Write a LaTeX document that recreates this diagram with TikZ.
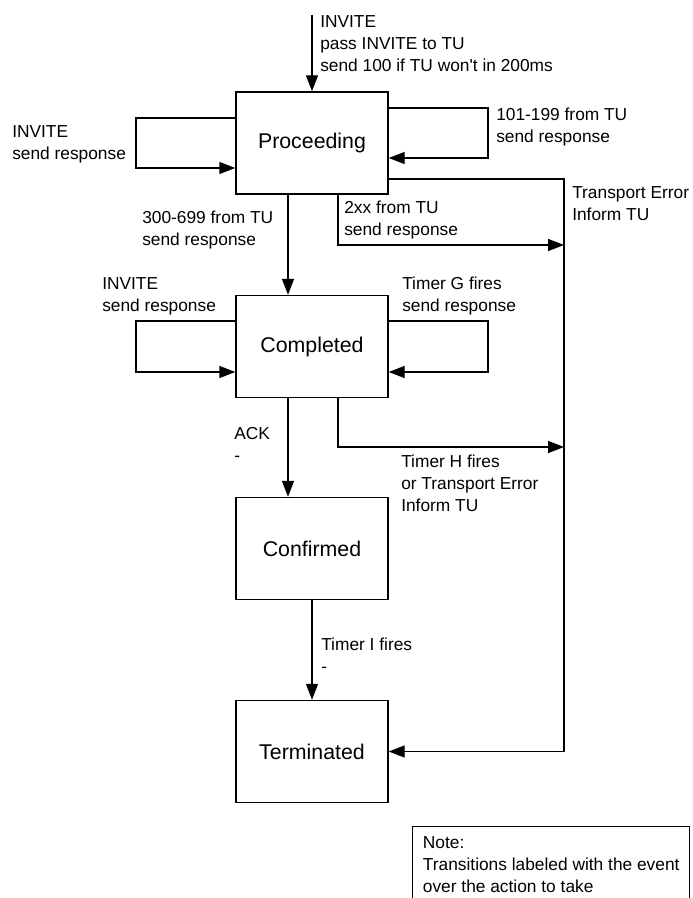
\documentclass[tikz,border=0pt]{standalone}
\usepackage{fontspec}
\setmainfont{Liberation Sans}
\usetikzlibrary{arrows.meta}

\begin{document}
\begin{tikzpicture}[x=0.75pt, y=-0.75pt,
  state/.style={draw, line width=1.1pt, minimum width=114pt, minimum height=76.5pt,
    font=\fontsize{16}{18}\selectfont},
  lbl/.style={align=left, inner sep=0pt, anchor=west, font=\fontsize{13}{16.5}\selectfont},
  flow/.style={line width=1.1pt, -{Triangle[length=12pt,width=9pt]}},
  notebox/.style={draw, line width=1.1pt, anchor=north west, align=left,
    inner xsep=2pt, inner ysep=7.5pt, minimum width=207.75pt,
    font=\fontsize{13}{16.5}\selectfont}]
  \useasboundingbox (0,0) rectangle (692,898);
  \def\cM{312} \def\cL{136} \def\cR{488} \def\cE{564}
  \def\rP{143} \def\rC{346.5} \def\rF{548.5} \def\rT{751.5}
  \node[state] (proc) at (\cM,\rP) {Proceeding};
  \node[state] (comp) at (\cM,\rC) {Completed};
  \node[state] (conf) at (\cM,\rF) {Confirmed};
  \node[state] (term) at (\cM,\rT) {Terminated};
  \coordinate (start) at (\cM,15);
  \coordinate (joinA) at (\cE,245);
  \coordinate (joinB) at (\cE,447);
  \coordinate (bend) at (\cE,\rT);
  \draw[flow] (start) -- (proc.north);
  \draw[flow] (proc.west |- 0,118) -- (\cL,118) -- (\cL,168) -- (proc.west |- 0,168);
  \draw[flow] (proc.east |- 0,108) -- (\cR,108) -- (\cR,158) -- (proc.east |- 0,158);
  \draw[flow] (comp.west |- 0,321) -- (\cL,321) -- (\cL,372) -- (comp.west |- 0,372);
  \draw[flow] (comp.east |- 0,321) -- (\cR,321) -- (\cR,372) -- (comp.east |- 0,372);
  \draw[flow] (proc.east |- 0,179) -| (bend) -- (term.east);
  \draw[flow] (proc.south -| 338,0) |- (joinA);
  \draw[flow] (comp.south -| 338,0) |- (joinB);
  \draw[flow] (proc.south -| 288,0) -- (comp.north -| 288,0);
  \draw[flow] (comp.south -| 288,0) -- (conf.north -| 288,0);
  \draw[flow] (conf.south) -- (term.north);
  \node[lbl] (lStart) at (320,43.5) {INVITE\\pass INVITE to TU\\send 100 if TU won\textquotesingle t in 200ms};
  \node[lbl] (lProcL) at (12,144) {INVITE\\send response};
  \node[lbl] (lProcR) at (496,127.5) {101-199 from TU\\send response};
  \node[lbl] (lTrans) at (572,204) {Transport Error\\Inform TU};
  \node[lbl] (lTwo) at (344,220) {2xx from TU\\send response};
  \node[lbl] (lThree) at (142,230) {300-699 from TU\\send response};
  \node[lbl] (lCompL) at (102,296) {INVITE\\send response};
  \node[lbl] (lCompR) at (402,296) {Timer G fires\\send response};
  \node[lbl] (lAck) at (234,444) {ACK\\-};
  \node[lbl] (lTimerH) at (401,483.5) {Timer H fires\\or Transport Error\\Inform TU};
  \node[lbl] (lTimerI) at (321,655.5) {Timer I fires\\-};
  \node[notebox] (note) at (412,826) {Note:\\Transitions labeled with the event\\over the action to take};
\end{tikzpicture}
\end{document}
